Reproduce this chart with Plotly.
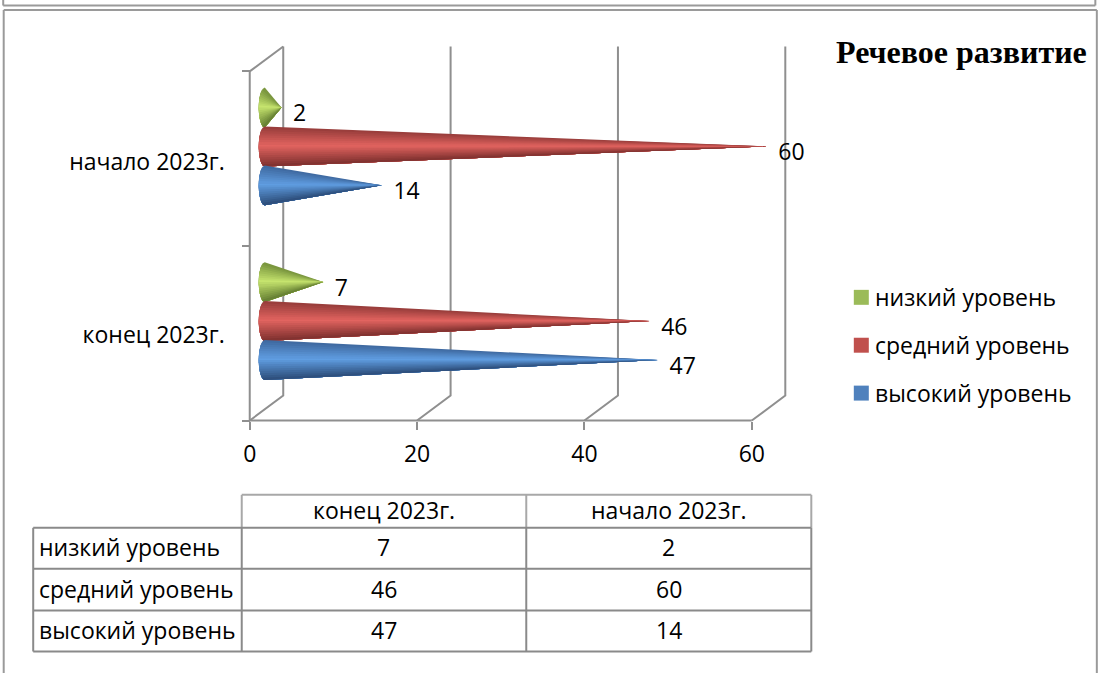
import plotly.graph_objects as go

categories = ["конец 2023г.", "начало 2023г."]
series_names = ["низкий уровень", "средний уровень", "высокий уровень"]
high = [47, 14]
mid = [46, 60]
low = [7, 2]
x_ticks = [0, 20, 40, 60]
title_text = "Речевое развитие"

W, H = 1099, 673
L, R, T, B = 250, 752, 71, 421      # front-plane box of the axes (px)
UX = (R - L) / 60.0     # px per value unit
UY = (B - T) / 2.0      # px per category
XR = [-2.0, 66.0]       # wider range so the 3D wall stays inside the subplot
YR = [-0.1, 2.3]
BL = L + XR[0] * UX
BR = L + XR[1] * UX
BB = B - YR[0] * UY
BT = B - YR[1] * UY

FONT = "Open Sans"
FS = 23
TXT = "#000000"
GRID = "#8f8f8f"

def px(p):
    return (p - BL) / (BR - BL)

def py(p):
    return (BB - p) / (BB - BT)

DEPTH_X = 33.5 / UX
DEPTH_Y = 25.0 / UY
CONE_X = 15.0 / UX      # cones stand mid-depth
CONE_Y = 0.57           # band centre in category
CONE_STEP = 39.0 / UY
CONE_H = 20.0 / UY
CONE_A = 6.0 / UX

fig = go.Figure()

def wall(xs, ys):
    fig.add_trace(go.Scatter(x=xs, y=ys, mode="lines", line=dict(color=GRID, width=2),
                             hoverinfo="skip", showlegend=False))

for v in x_ticks:
    wall([v, v + DEPTH_X, v + DEPTH_X], [0, DEPTH_Y, 2 + DEPTH_Y])
wall([0, DEPTH_X], [2, 2 + DEPTH_Y])
wall([0, 0], [0, 2])
wall([0, x_ticks[-1]], [0, 0])

def mix(c1, c2, t):
    return "rgb(%d,%d,%d)" % tuple(round(a + (b - a) * t) for a, b in zip(c1, c2))

shades = {
    "низкий уровень": ((118, 146, 60), (198, 228, 110), (100, 126, 50), "#9BBB59"),
    "средний уровень": ((150, 60, 58), (226, 100, 96), (125, 48, 46), "#C0504D"),
    "высокий уровень": ((62, 104, 158), (96, 158, 226), (44, 76, 120), "#4F81BD"),
}

def cone(value, yc, name):
    top, bright, bottom, _ = shades[name]
    n = 18
    tip = value + CONE_X
    for k in range(n):
        s0 = -1 + 2 * k / n
        # painter's algorithm: each polygon covers from s0 to the lower edge
        xs, ys = [tip], [yc]
        m = 30
        for j in range(m + 1):
            s = s0 + (1 - s0) * j / m
            xs.append(CONE_X - CONE_A * max(0.0, 1 - s * s) ** 0.5)
            ys.append(yc - s * CONE_H)
        xs.append(tip)
        ys.append(yc)
        sm = s0 + 1 / n
        if sm < -0.05:
            col = mix(top, bright, (sm + 1) / 0.95)
        else:
            col = mix(bright, bottom, (sm + 0.05) / 1.05)
        fig.add_trace(go.Scatter(x=xs, y=ys, mode="lines", fill="toself", fillcolor=col,
                                 line=dict(width=0, color=col), hoverinfo="skip", showlegend=False))

rows_vals = [low, mid, high]
positions = [1, 0, -1]
for name, vals, pos in zip(series_names, rows_vals, positions):
    for i, v in enumerate(vals):
        cone(v, i + CONE_Y + pos * CONE_STEP, name)

# data labels
for name, vals, pos in zip(series_names, rows_vals, positions):
    fig.add_trace(go.Scatter(
        x=[v + 26.5 / UX for v in vals],
        y=[i + CONE_Y + pos * CONE_STEP - 8.0 / UY for i in range(len(vals))],
        mode="text", text=[str(v) for v in vals], textposition="middle right",
        textfont=dict(family=FONT, size=FS, color=TXT), cliponaxis=False,
        hoverinfo="skip", showlegend=False, name=name))

shapes = []
def line(x0, y0, x1, y1, color="#8a8a8a", width=2):
    shapes.append(dict(type="line", xref="paper", yref="paper", x0=px(x0), x1=px(x1), y0=py(y0), y1=py(y1),
                       line=dict(color=color, width=width), layer="below"))

# page frames
FR = "#9a9a9a"
line(3.5, -3, 3.5, 5, FR); line(3.5, 5, 1095.5, 5, FR); line(1095.5, -3, 1095.5, 5, FR)
line(4, 9.5, 1097, 9.5, FR); line(4, 9.5, 4, 680, FR); line(1097, 9.5, 1097, 680, FR)

# data table
col_x = [33.5, 242, 526.5, 811.5]
row_y = [495.5, 528.5, 569.5, 611.5, 652.5]
HD = "#a8a8a8"
line(col_x[1], row_y[0], col_x[3], row_y[0], HD)
line(col_x[1], row_y[0], col_x[1], row_y[1], HD)
line(col_x[2], row_y[0], col_x[2], row_y[1], HD)
line(col_x[3], row_y[0], col_x[3], row_y[1], HD)
for y in row_y[1:]:
    line(col_x[0], y, col_x[3], y)
for x in col_x:
    line(x, row_y[1], x, row_y[4])

anns = []
def text(x, y, s, size=FS, anchor="center", family=FONT, bold=False):
    anns.append(dict(xref="paper", yref="paper", x=px(x), y=py(y), text=("<b>%s</b>" % s) if bold else s,
                     showarrow=False, xanchor=anchor, yanchor="middle",
                     font=dict(family=family, size=size, color=TXT)))

text(1089, 52, title_text, size=32, anchor="right", family="Liberation Serif", bold=True)
col_c = [384, 669]
for j, c in enumerate(categories):
    text(col_c[j], 511, c)
row_c = [548, 590, 631]
for r, nm in enumerate(series_names):
    text(37, row_c[r], nm, anchor="left")
    for j in range(len(categories)):
        text(col_c[j], row_c[r], str(rows_vals[r][j]))

# legend
leg_y = [297.5, 345.5, 393.5]
for nm, y in zip(series_names, leg_y):
    shapes.append(dict(type="rect", xref="paper", yref="paper", x0=px(854), x1=px(869), y0=py(y - 7.5), y1=py(y + 7.5),
                       line=dict(width=0), fillcolor=shades[nm][3]))
    text(873, y, nm, anchor="left")

fig.update_layout(
    width=W, height=H, autosize=False,
    margin=dict(l=BL, r=W - BR, t=BT, b=H - BB, pad=0),
    paper_bgcolor="white", plot_bgcolor="rgba(0,0,0,0)",
    shapes=shapes, annotations=anns,
    font=dict(family=FONT, size=FS, color=TXT),
    showlegend=False,
    xaxis=dict(range=XR, tickmode="array", tickvals=x_ticks, ticks="outside", ticklen=8, tickwidth=2,
               tickcolor=GRID, showline=False, showgrid=False, zeroline=False,
               anchor="free", position=(0 - YR[0]) / (YR[1] - YR[0]),
               tickfont=dict(family=FONT, size=FS, color=TXT), ticklabelstandoff=5),
    yaxis=dict(range=YR, tickmode="array", tickvals=[0.49, 1.48], ticktext=categories, ticks="", ticklen=0,
               showline=False, showgrid=False, zeroline=False,
               anchor="free", position=(0 - XR[0]) / (XR[1] - XR[0]),
               tickfont=dict(family=FONT, size=FS, color=TXT), ticklabelstandoff=25,
               minor=dict(tickmode="array", tickvals=[0, 1, 2], ticks="outside", ticklen=8, tickwidth=2,
                          tickcolor=GRID, showgrid=False)),
)

fig.write_html("out.html", config={"displayModeBar": False},
               post_script="document.body.style.margin='0';document.body.style.overflow='hidden';")
